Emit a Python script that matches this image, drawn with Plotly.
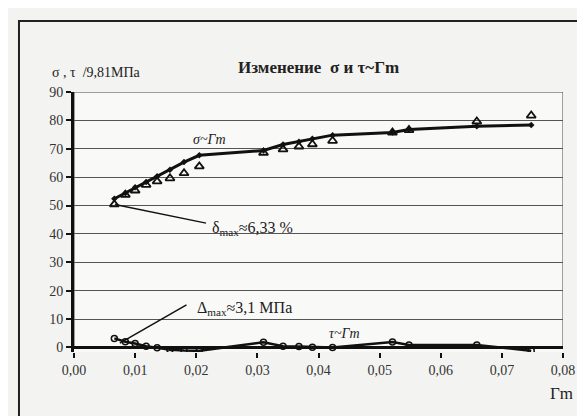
import plotly.graph_objects as go

# Γm values (shared by all series)
gm = [0.0066, 0.0084, 0.0100, 0.0118, 0.0136, 0.0157, 0.0180, 0.0205,
      0.0310, 0.0342, 0.0368, 0.0390, 0.0423, 0.0521, 0.0548, 0.0659, 0.0748]
# σ, calculated curve
sigma_calc = [52.4, 54.4, 56.4, 58.3, 60.3, 62.6, 65.3, 67.7,
              69.4, 71.5, 72.5, 73.5, 74.8, 75.7, 76.8, 77.9, 78.4]
# σ, experimental points
sigma_exp = [50.4, 53.8, 55.3, 57.3, 58.5, 59.6, 61.4, 63.8,
             68.6, 69.8, 70.8, 71.6, 72.8, 75.7, 76.6, 79.6, 81.7]
# τ values
tau_exp = [3.2, 2.0, 1.4, 0.4, -0.1, -0.8, -1.1, -1.2,
           1.8, 0.4, 0.3, 0.1, 0.0, 1.9, 0.9, 0.9, -1.2]

x_ticks = [0.00, 0.01, 0.02, 0.03, 0.04, 0.05, 0.06, 0.07, 0.08]
y_ticks = [0, 10, 20, 30, 40, 50, 60, 70, 80, 90]

SERIF = "Liberation Serif"

fig = go.Figure()

fig.add_trace(go.Scatter(
    x=gm, y=sigma_calc, mode="lines+markers",
    line=dict(color="#111", width=3),
    marker=dict(symbol="diamond", size=5, color="#111"),
    showlegend=False))
fig.add_trace(go.Scatter(
    x=gm, y=sigma_exp, mode="markers",
    marker=dict(symbol="triangle-up-open", size=8, color="#111",
                line=dict(width=1.8, color="#111")),
    showlegend=False))
fig.add_trace(go.Scatter(
    x=gm, y=tau_exp, mode="lines+markers",
    line=dict(color="#111", width=2.5),
    marker=dict(symbol="circle-open", size=6, color="#111",
                line=dict(width=1.5, color="#111")),
    showlegend=False))

fig.update_layout(
    width=585, height=416,
    margin=dict(l=66, r=30, t=84, b=72),
    paper_bgcolor="#f3f3f1",
    plot_bgcolor="#f9f9f8",
    separators=", ",
    font=dict(family=SERIF, color="#222", size=14),
)

fig.update_xaxes(
    range=[0, 0.08], tickvals=x_ticks, tickformat=".2f",
    showgrid=False, showline=False, zeroline=False,
    ticks="outside", ticklen=5, tickwidth=2, tickcolor="#111",
    tickfont=dict(family=SERIF, size=14, color="#333"),
)
fig.update_yaxes(
    range=[-1.6, 90], tickvals=y_ticks,
    showgrid=True, gridcolor="#555", gridwidth=1,
    zeroline=True, zerolinecolor="#111", zerolinewidth=3,
    showline=True, linecolor="#111", linewidth=3,
    ticks="outside", ticklen=5, tickwidth=2, tickcolor="#111",
    tickfont=dict(family=SERIF, size=14, color="#333"),
)

# plot border (thin) and outer frame
fig.add_shape(type="rect", xref="x", yref="y", x0=0, x1=0.08, y0=0, y1=90,
              line=dict(color="#444", width=1), layer="below")
fig.add_shape(type="rect", xref="paper", yref="paper",
              x0=-0.1125, x1=1.08, y0=-0.265, y1=1.273,
              line=dict(color="#222", width=2))

# pointer lines
fig.add_shape(type="line", xref="x", yref="y", x0=0.0067, y0=50.4, x1=0.0216, y1=43.8,
              line=dict(color="#111", width=1.5))
fig.add_shape(type="line", xref="x", yref="y", x0=0.0075, y0=1.5, x1=0.0184, y1=15,
              line=dict(color="#111", width=1.5))

ann = [
    dict(x=0.501, y=1.138, xref="paper", yref="paper", xanchor="center",
         text="<b>Изменение  σ и τ~Γm</b>", font=dict(size=17, color="#222")),
    dict(x=-0.049, y=1.111, xref="paper", yref="paper", xanchor="left",
         text="σ , τ  /9,81МПа", font=dict(size=14, color="#222")),
    dict(x=0.996, y=-0.204, xref="paper", yref="paper", xanchor="center",
         text="Γm", font=dict(size=17, color="#222")),
    dict(x=0.0222, y=73.4, xref="x", yref="y", xanchor="center",
         text="<i>σ~Γm</i>", font=dict(size=14, color="#222")),
    dict(x=0.0222, y=41.8, xref="x", yref="y", xanchor="left",
         text="δ<sub>max</sub>≈6,33 %", font=dict(size=16, color="#222")),
    dict(x=0.0198, y=13.8, xref="x", yref="y", xanchor="left",
         text="Δ<sub>max</sub>≈3,1 МПа", font=dict(size=16, color="#222")),
    dict(x=0.0443, y=5.0, xref="x", yref="y", xanchor="center",
         text="<i>τ~Γm</i>", font=dict(size=14, color="#222")),
]
for a in ann:
    a.setdefault("showarrow", False)
    a["font"]["family"] = SERIF
    fig.add_annotation(**a)

fig.write_html("out.html")
